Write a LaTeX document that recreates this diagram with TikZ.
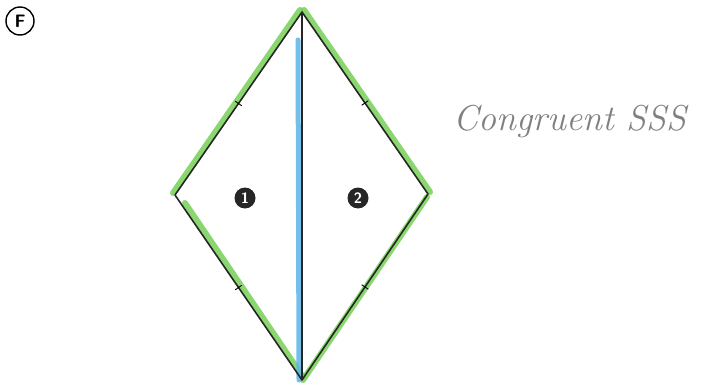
\documentclass[tikz,border=0pt]{standalone}
\usepackage{tikz}
\usetikzlibrary{positioning}

\begin{document}
\begin{tikzpicture}[
  x=1pt, y=-1pt,
  side/.style={line width=1.6pt, black!85},
  hilite/.style={line width=6pt, line cap=round, draw={rgb,255:red,110;green,205;blue,75}, opacity=0.8},
  diag/.style={line width=5pt, line cap=round, draw={rgb,255:red,90;green,180;blue,230}, opacity=0.85},
  tickmark/.style={sloped, draw, inner sep=0pt, minimum width=0pt,
    minimum height=8pt, line width=0.9pt},
  num/.style={circle, fill=black!85, text=white, inner sep=0pt,
    minimum size=21pt, font=\sffamily\bfseries\fontsize{15}{16}\selectfont},
  note/.style={font=\fontsize{36}{40}\selectfont\itshape, text=black!50}
]
  \useasboundingbox (0,0) rectangle (712,385);

  % Vertices
  \coordinate (top)   at (302,12);
  \coordinate (left)  at (175,195);
  \coordinate (right) at (428,194);
  \coordinate (bot)   at (302,380);

  % Highlights
  \draw[hilite] ([shift={(-2,-2)}]top) -- ([shift={(-2,-2)}]left);
  \draw[hilite] ([shift={(2,-2)}]top) -- ([shift={(2,-2)}]right);
  \draw[hilite] ([shift={(10,8)}]left) -- ([shift={(1,-3)}]bot);
  \draw[hilite] ([shift={(-1,3)}]right) -- ([shift={(1,0)}]bot);
  \draw[diag] (298,40) -- ([shift={(-3,0)}]bot);

  % Kite
  \draw[side, line join=round] (top) -- (left) -- (bot) -- (right) -- cycle;
  \draw[side] (top) -- (bot);

  % Tick marks
  \path (top) -- (left) node[tickmark, pos=0.5] (t1) {};
  \path (top) -- (right) node[tickmark, pos=0.5] (t2) {};
  \path (left) -- (bot) node[tickmark, pos=0.5] (t3) {};
  \path (right) -- (bot) node[tickmark, pos=0.5] (t4) {};

  % Labels
  \node[num] (one) at (245,198) {1};
  \node[num] (two) at (358,198) {2};
  \node[circle, draw, line width=1.4pt, minimum size=28pt, inner sep=0pt,
    font=\sffamily\bfseries\fontsize{18}{20}\selectfont] (part) at (20,21) {F};
  \node[note] (sss) at (570,122) {Congruent SSS};
\end{tikzpicture}
\end{document}
